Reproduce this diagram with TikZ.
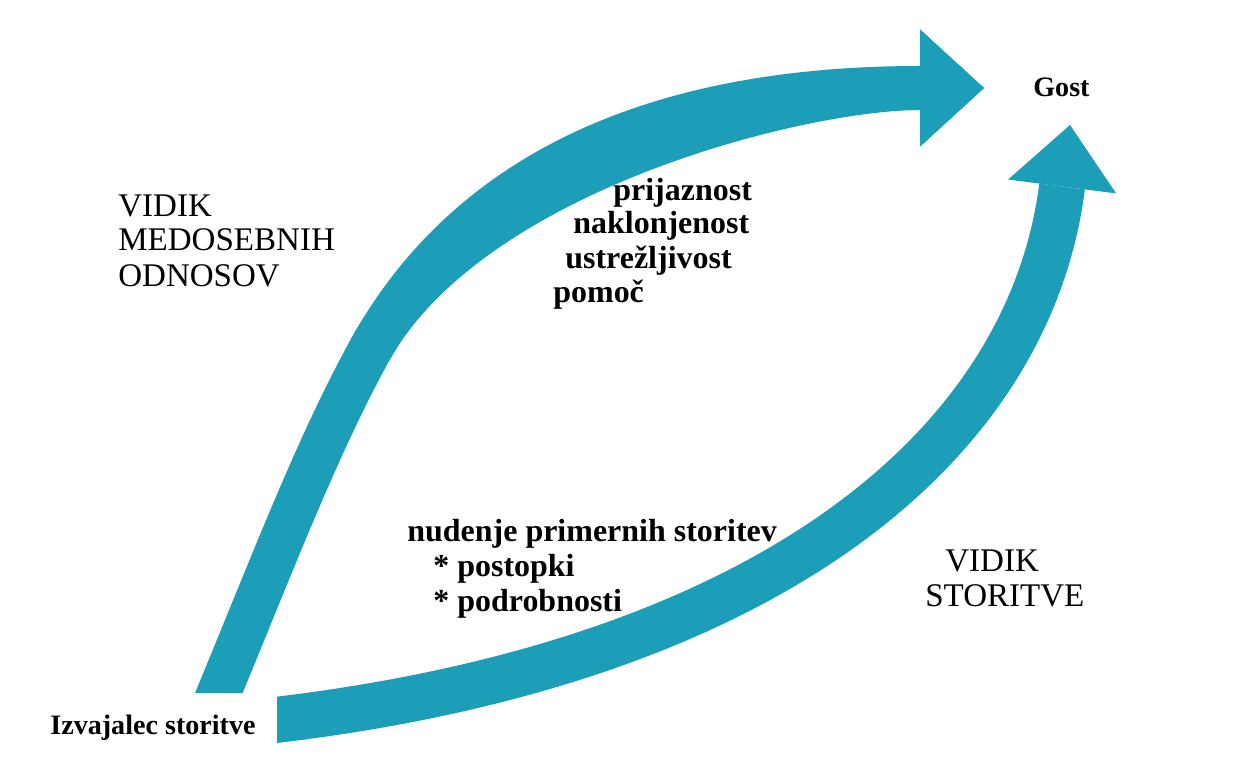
\documentclass[tikz,border=0pt]{standalone}
\usepackage{fontspec}
\setmainfont{Liberation Serif}
\usetikzlibrary{arrows.meta}
\definecolor{flowteal}{RGB}{28,157,184}
\begin{document}
\begin{tikzpicture}[x=0.02cm,y=-0.02cm,
  capslabel/.style={anchor=base west,inner sep=0pt,font=\fontsize{18.8pt}{20pt}\selectfont},
  itemlabel/.style={anchor=base west,inner sep=0pt,font=\fontsize{18.2pt}{20pt}\selectfont\bfseries},
  endlabel/.style={anchor=base west,inner sep=0pt,font=\fontsize{16pt}{18pt}\selectfont\bfseries},
  flow/.style={draw=flowteal,line cap=butt}]
\useasboundingbox (0,0) rectangle (1245,757);
\fill[white] (0,0) rectangle (1245,757);

% labels
\node[capslabel] (v1) at (118,216) {VIDIK};
\node[capslabel] (v2) at (118,251) {MEDOSEBNIH};
\node[capslabel] (v3) at (118,286) {ODNOSOV};
\node[itemlabel] (p1) at (613,200) {prijaznost};
\node[itemlabel] (p2) at (573,234) {naklonjenost};
\node[itemlabel] (p3) at (565,268) {ustrežljivost};
\node[itemlabel] (p4) at (553,302) {pomoč};
\node[itemlabel] (n1) at (407,541) {nudenje primernih storitev};
\node[itemlabel] (n2) at (433,576) {* postopki};
\node[itemlabel] (n3) at (433,611) {* podrobnosti};
\node[capslabel] (s1) at (945,571) {VIDIK};
\node[capslabel] (s2) at (925,606) {STORITVE};
\node[endlabel] (iz) at (50,734) {Izvajalec storitve};
\node[endlabel] (gost) at (1033,97) {Gost};

% arrow ends
\coordinate (a1s) at (211,712);
\coordinate (a1m) at (370,350);
\coordinate (a1e) at (984,88);
\coordinate (a2s) at (258,722);
\coordinate (a2e) at (1070,125);

% upper arrow (medosebni odnosi): a second stroke along the arc
% widens the band on its inner side
\begin{scope}
\clip (0,0) rectangle (1245,692);
\draw[flow,line width=0.88cm,-{Triangle[length=1.28cm,width=2.34cm,line width=0pt]}]
  (a1s) .. controls (270,570) and (315,450) .. (a1m)
        .. controls (470,170) and (660,88) .. (a1e);
\draw[flow,line width=0.88cm,-{Triangle[length=1.28cm,width=2.34cm,line width=0pt]}]
  (a1m) .. controls (470,170) and (800,88) .. (a1e);
\end{scope}

% lower arrow (storitev)
\begin{scope}
\clip (277,0) rectangle (1245,757);
\draw[flow,line width=0.92cm,-{Triangle[length=1.24cm,width=2.18cm,line width=0pt]}]
  (a2s) .. controls (758,667) and (1028,452) .. (a2e);
\end{scope}
\end{tikzpicture}
\end{document}
